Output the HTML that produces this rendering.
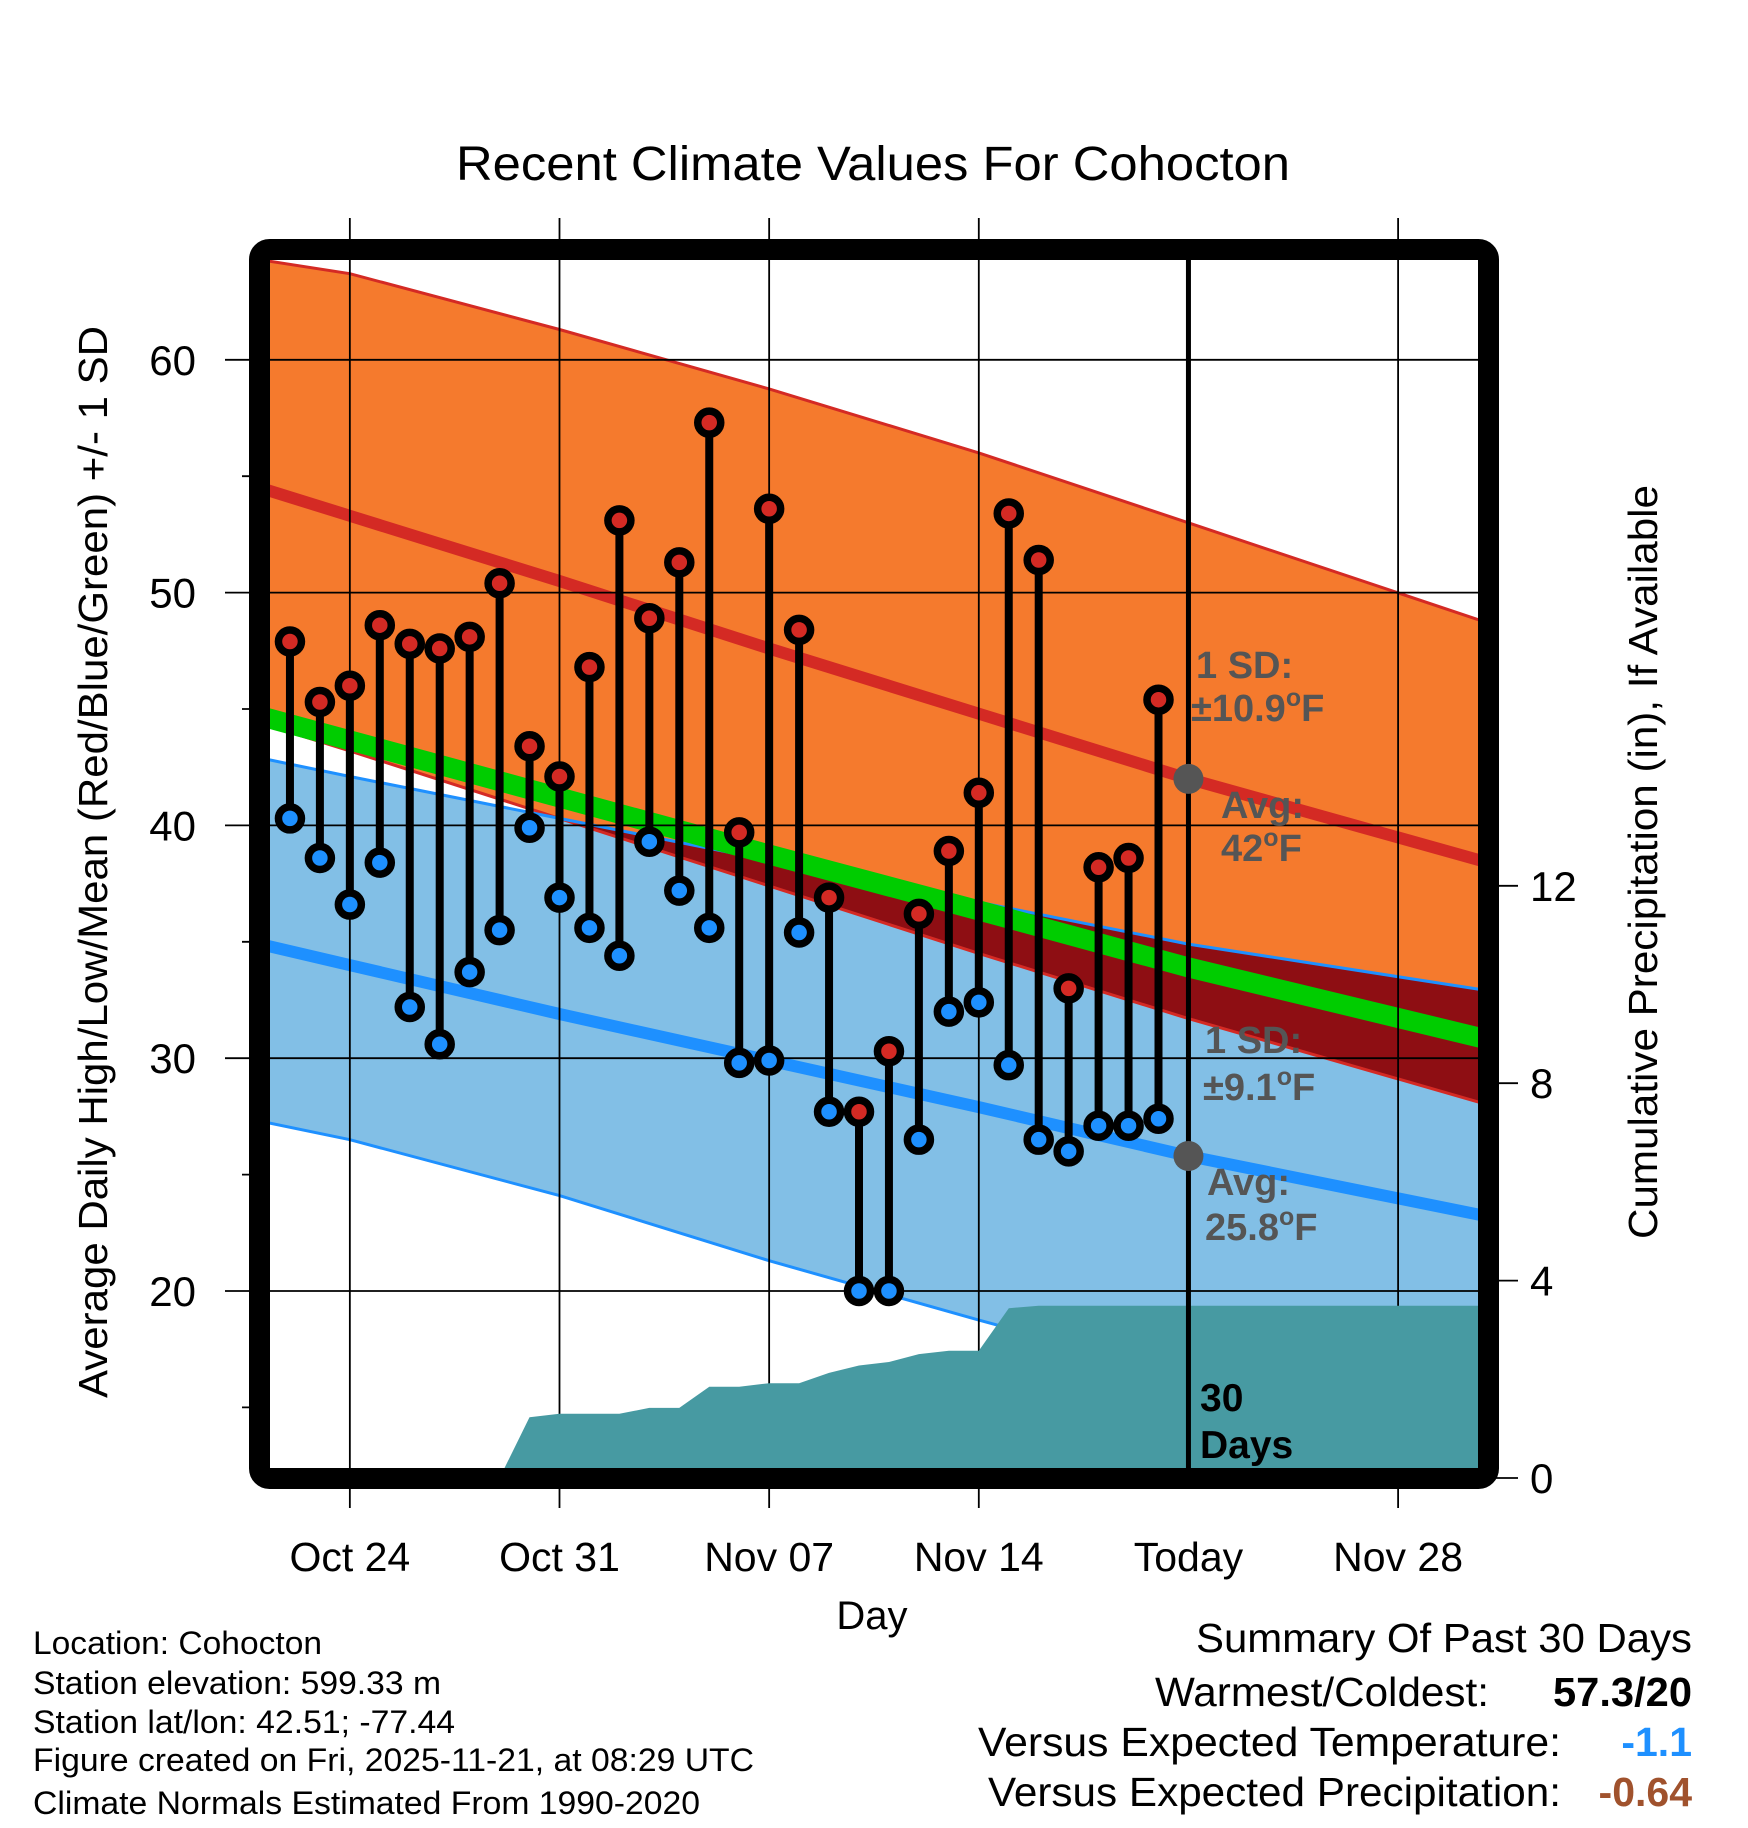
<!DOCTYPE html>
<html><head><meta charset="utf-8"><style>
html,body{margin:0;padding:0;background:#fff;}
svg{display:block;font-family:"Liberation Sans",Arial,sans-serif;}
</style></head><body>
<svg id="chart" width="1748" height="1828" viewBox="0 0 1748 1828" xmlns="http://www.w3.org/2000/svg">
<defs>
<clipPath id="plotclip"><rect x="260" y="250" width="1228" height="1228"/></clipPath>
<clipPath id="blueclip"><polygon id="bluepoly"/></clipPath>
</defs>
<text x="873" y="180" font-size="48" text-anchor="middle" textLength="834" lengthAdjust="spacingAndGlyphs">Recent Climate Values For Cohocton</text>
<g id="bands" clip-path="url(#plotclip)"></g>
<g id="grid"></g>
<g id="precip" clip-path="url(#plotclip)"></g>
<g id="obs"></g>
<g id="annot"></g>
<rect x="259.5" y="249.5" width="1229" height="1229" rx="10" fill="none" stroke="#000" stroke-width="21"/>
<g id="axes"></g>
<text x="872" y="1629" font-size="40" text-anchor="middle">Day</text>
<text transform="translate(107,862) rotate(-90)" font-size="41" text-anchor="middle" textLength="1072" lengthAdjust="spacingAndGlyphs">Average Daily High/Low/Mean (Red/Blue/Green) +/- 1 SD</text>
<text transform="translate(1657,862) rotate(-90)" font-size="41" text-anchor="middle" textLength="754" lengthAdjust="spacingAndGlyphs">Cumulative Precipitation (in), If Available</text>
<g font-size="32">
<text x="33" y="1654" textLength="289" lengthAdjust="spacingAndGlyphs">Location: Cohocton</text>
<text x="33" y="1694" textLength="408" lengthAdjust="spacingAndGlyphs">Station elevation: 599.33 m</text>
<text x="33" y="1733" textLength="422" lengthAdjust="spacingAndGlyphs">Station lat/lon: 42.51; -77.44</text>
<text x="33" y="1771" textLength="721" lengthAdjust="spacingAndGlyphs">Figure created on Fri, 2025-11-21, at 08:29 UTC</text>
<text x="33" y="1814" textLength="667" lengthAdjust="spacingAndGlyphs">Climate Normals Estimated From 1990-2020</text>
</g>
<g font-size="41">
<text x="1692" y="1652" text-anchor="end" textLength="496" lengthAdjust="spacingAndGlyphs">Summary Of Past 30 Days</text>
<text x="1489" y="1706" text-anchor="end" textLength="334" lengthAdjust="spacingAndGlyphs">Warmest/Coldest:</text>
<text x="1692" y="1706" text-anchor="end" font-weight="bold" textLength="139" lengthAdjust="spacingAndGlyphs">57.3/20</text>
<text x="1561" y="1756" text-anchor="end" textLength="583" lengthAdjust="spacingAndGlyphs">Versus Expected Temperature:</text>
<text x="1692" y="1756" text-anchor="end" font-weight="bold" fill="#1E90FF">-1.1</text>
<text x="1561" y="1806" text-anchor="end" textLength="573" lengthAdjust="spacingAndGlyphs">Versus Expected Precipitation:</text>
<text x="1692" y="1806" text-anchor="end" font-weight="bold" fill="#A0522D">-0.64</text>
</g>
</svg>
<script>
// observed data, days relative to today (Nov 21); first point Oct 22 = -30
const obsDays = [-30,-29,-28,-27,-26,-25,-24,-23,-22,-21,-20,-19,-18,-17,-16,-15,-14,-13,-12,-11,-10,-9,-8,-7,-6,-5,-4,-3,-2,-1];
const highs = [47.9,45.3,46.0,48.6,47.8,47.6,48.1,50.4,43.4,42.1,46.8,53.1,48.9,51.3,57.3,39.7,53.6,48.4,36.9,27.7,30.3,36.2,38.9,41.4,53.4,51.4,33.0,38.2,38.6,45.4];
const lows = [40.3,38.6,36.6,38.4,32.2,30.6,33.7,35.5,39.9,36.9,35.6,34.4,39.3,37.2,35.6,29.8,29.9,35.4,27.7,20.0,20.0,26.5,32.0,32.4,29.7,26.5,26.0,27.1,27.1,27.4];
// cumulative precipitation
const precipDays = [-30,-29,-28,-27,-26,-25,-24,-23,-22,-21,-20,-19,-18,-17,-16,-15,-14,-13,-12,-11,-10,-9,-8,-7,-6,-5,-4,-3,-2,-1,0,10];
const precipVals = [0,0,0,0,0,0,0,0,1.23,1.30,1.30,1.30,1.42,1.42,1.85,1.85,1.92,1.92,2.13,2.28,2.35,2.51,2.58,2.58,3.44,3.49,3.49,3.49,3.49,3.49,3.49,3.49];
// climate normals knots
const normDays = [-31,-28,-21,-14,-7,0,10];
const highMean = [54.5,53.3,50.5,47.6,44.8,42.0,38.4];
const highUpper = [64.3,63.7,61.3,58.75,56.0,53.0,48.7];
const highLower = [44.4,43.2,40.3,37.4,34.5,31.7,28.0];
const lowMean = [34.9,34.0,31.9,29.9,27.9,25.8,23.2];
const lowUpper = [42.9,42.1,40.3,38.5,36.7,34.9,32.9];
const lowLower = [27.3,26.5,24.1,21.3,18.75,16.3,13.0];
const yTicks = [20,30,40,50,60];
const yMinor = [15,25,35,45,55];
const y2Ticks = [0,4,8,12];
const xTickDays = [-28,-21,-14,-7,0,7];
const xTickLabels = ["Oct 24","Oct 31","Nov 07","Nov 14","Today","Nov 28"];

const NS="http://www.w3.org/2000/svg";
const X = d => 260 + (d+31)*29.95;
const Y = t => 1291 - (t-20)*23.28;
const P = p => 1478 - p*49.35;
function el(tag, attrs, parent){const e=document.createElementNS(NS,tag);for(const k in attrs)e.setAttribute(k,attrs[k]);parent.appendChild(e);return e;}
function pts(days, vals){return days.map((d,i)=>X(d).toFixed(1)+","+Y(vals[i]).toFixed(1));}
function bandPoly(up, lo){return pts(normDays,up).concat(pts(normDays,lo).reverse()).join(" ");}

const bands=document.getElementById('bands');
let e;
e=el('polygon',{points:bandPoly(highUpper,highLower),fill:'#F57A2D'},bands);


e=el('polygon',{points:bandPoly(lowUpper,lowLower),fill:'#82BFE6'},bands);


document.getElementById('bluepoly').setAttribute('points',bandPoly(lowUpper,lowLower));
e=el('polygon',{points:bandPoly(highUpper,highLower),fill:'#8E0E13','clip-path':'url(#blueclip)'},bands);


e=el('polyline',{points:pts(normDays,highUpper).join(" "),fill:'none',stroke:'#D42A24','stroke-width':3},bands);


e=el('polyline',{points:pts(normDays,highLower).join(" "),fill:'none',stroke:'#D42A24','stroke-width':3},bands);


e=el('polyline',{points:pts(normDays,lowUpper).join(" "),fill:'none',stroke:'#1E90FF','stroke-width':3},bands);


e=el('polyline',{points:pts(normDays,lowLower).join(" "),fill:'none',stroke:'#1E90FF','stroke-width':3},bands);


const meanVals=highMean.map((h,i)=>(h+lowMean[i])/2);
e=el('polyline',{points:pts(normDays,meanVals).join(" "),fill:'none',stroke:'#00CC00','stroke-width':20},bands);


e=el('polyline',{points:pts(normDays,highMean).join(" "),fill:'none',stroke:'#D42A24','stroke-width':12},bands);


e=el('polyline',{points:pts(normDays,lowMean).join(" "),fill:'none',stroke:'#1E90FF','stroke-width':12},bands);



// grid
const grid=document.getElementById('grid');
xTickDays.forEach((d,i)=>{
  if(d===0) return;
  const g=el('line',{x1:X(d),x2:X(d),y1:218,y2:1508,stroke:'#000','stroke-width':1.8},grid);
  
  
});
yTicks.forEach(t=>{
  const g=el('line',{x1:225,x2:1488,y1:Y(t),y2:Y(t),stroke:'#000','stroke-width':1.8},grid);
  
  
});
yMinor.forEach(t=>{
  const g=el('line',{x1:242,x2:262,y1:Y(t),y2:Y(t),stroke:'#000','stroke-width':1.8},grid);
  
  
});
y2Ticks.forEach(p=>{
  const g=el('line',{x1:1488,x2:1518,y1:P(p),y2:P(p),stroke:'#000','stroke-width':1.8},grid);
  
  
});

// precip
const pg=document.getElementById('precip');
let pp=[X(precipDays[0])+","+P(0)];
precipDays.forEach((d,i)=>pp.push(X(d).toFixed(1)+","+P(precipVals[i]).toFixed(1)));
pp.push(X(precipDays[precipDays.length-1])+","+P(0));
e=el('polygon',{points:pp.join(" "),fill:'#479AA2'},pg);



// today line
e=el('line',{x1:X(0),x2:X(0),y1:255,y2:1478,stroke:'#000','stroke-width':5},pg);



// observations
const og=document.getElementById('obs');
obsDays.forEach((d,i)=>{
  const l=el('line',{x1:X(d),x2:X(d),y1:Y(highs[i]),y2:Y(lows[i]),stroke:'#000','stroke-width':8},og);
  
  
});
obsDays.forEach((d,i)=>{
  const h=el('circle',{cx:X(d),cy:Y(highs[i]),r:11.5,fill:'#D42A24',stroke:'#000','stroke-width':7.5},og);
  
  
  const lo=el('circle',{cx:X(d),cy:Y(lows[i]),r:11.5,fill:'#1E90FF',stroke:'#000','stroke-width':7.5},og);
  
  
});

// annotations
const an=document.getElementById('annot');
e=el('circle',{cx:X(0),cy:Y(42.0),r:15,fill:'#555'},an);


e=el('circle',{cx:X(0),cy:Y(25.8),r:15,fill:'#555'},an);


function txt(x,y,s,name,fill,size){const t=el('text',{x:x,y:y,'font-size':size||38,'font-weight':'bold',fill:fill||'#555'},an);t.innerHTML=s;return t;}
const deg='<tspan dy="-15" font-size="25">o</tspan><tspan dy="15">F</tspan>';
txt(1196,678,'1 SD:','high-sd-label');
txt(1191,721,'±10.9'+deg,'high-sd-value');
txt(1221,818,'Avg:','high-avg-label');
txt(1221,861,'42'+deg,'high-avg-value');
txt(1205,1053,'1 SD:','low-sd-label');
txt(1203,1100,'±9.1'+deg,'low-sd-value');
txt(1207,1195,'Avg:','low-avg-label');
txt(1205,1240,'25.8'+deg,'low-avg-value');
txt(1200,1411,'30','days-count-label','#000',39);
txt(1200,1458,'Days','days-label','#000',39);

// axes labels
const ax=document.getElementById('axes');
yTicks.forEach(t=>{
  const tt=el('text',{x:196,y:Y(t)+15,'font-size':42,'text-anchor':'end'},ax);
  tt.textContent=t;
  
  
});
y2Ticks.forEach(p=>{
  const tt=el('text',{x:1530,y:P(p)+15,'font-size':42},ax);
  tt.textContent=p;
  
  
});
xTickDays.forEach((d,i)=>{
  const tt=el('text',{x:X(d),y:1571,'font-size':41,'text-anchor':'middle'},ax);
  tt.textContent=xTickLabels[i];
  
  
});
</script>
</body></html>
